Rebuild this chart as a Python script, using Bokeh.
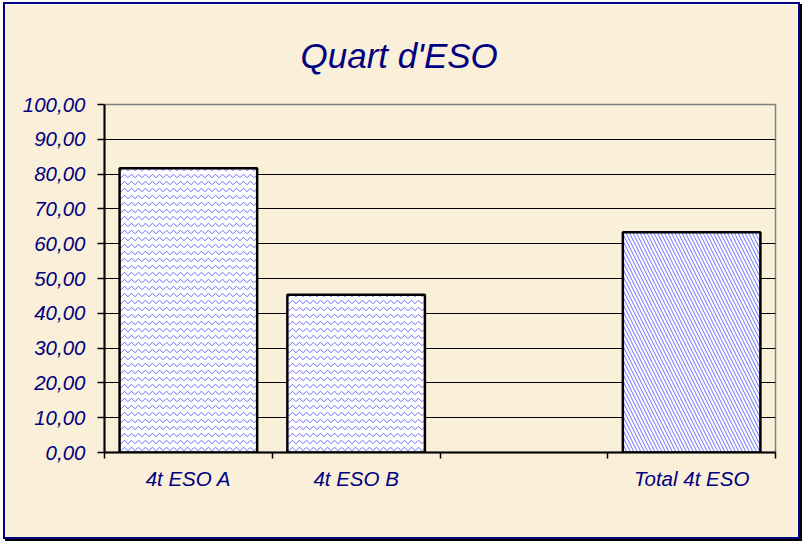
from bokeh.plotting import figure
from bokeh.models import Range1d, LinearAxis, FixedTicker, ColumnDataSource
from bokeh.embed import file_html
from bokeh.resources import INLINE

# ---- data ----
categories = ["4t ESO A", "4t ESO B", "", "Total 4t ESO"]
values = [81.7, 45.3, None, 63.3]
y_ticks = [0, 10, 20, 30, 40, 50, 60, 70, 80, 90, 100]
y_tick_labels = ["0,00", "10,00", "20,00", "30,00", "40,00", "50,00",
                 "60,00", "70,00", "80,00", "90,00", "100,00"]
title_text = "Quart d'ESO"

# ---- style ----
bar_hatch = ["v", "v", "v", "\\"]
NAVY = "#000080"
BG = "#FAF0DA"
FONT = "Liberation Sans"

n = len(categories)
centers = [i + 0.5 for i in range(n)]
bounds = list(range(n + 1))

W, H = 797, 537
OX, OY = 5, 4   # content origin (margin + border)
p = figure(width=W, height=H, output_backend="svg", toolbar_location=None,
           x_range=Range1d(0, n), y_range=Range1d(0, 100),
           x_axis_location=None, y_axis_location=None,
           min_border_left=104 - OX, min_border_top=104 - OY,
           min_border_right=W - (775 - OX), min_border_bottom=H - (452 - OY))
p.styles = {"border": "2px solid #000080", "box-shadow": "2px 2px 0 #000000",
            "margin": "2px 0 0 3px"}
p.background_fill_color = BG
p.border_fill_color = BG
p.outline_line_color = "#808080"
p.outline_line_width = 1.5

p.title.text = title_text
p.title.align = "left"
p.title.offset = 196
p.title.vertical_align = "top"
p.title.standoff = 56
p.title.text_font = FONT
p.title.text_font_style = "italic"
p.title.text_font_size = "35px"
p.title.text_color = NAVY

# y axis
yax = LinearAxis(ticker=FixedTicker(ticks=y_ticks),
                 major_label_overrides={t: l for t, l in zip(y_ticks, y_tick_labels)})
yax.axis_line_color = "black"
yax.axis_line_width = 2
yax.major_tick_in = 0
yax.major_tick_out = 7
yax.major_tick_line_width = 1.5
yax.minor_tick_line_color = None
yax.major_label_standoff = 12
yax.major_label_text_font = FONT
yax.major_label_text_font_style = "italic"
yax.major_label_text_font_size = "20.5px"
yax.major_label_text_color = NAVY
p.add_layout(yax, "left")

# x axis: labels at category centres, tick marks at category boundaries
xax = LinearAxis(ticker=FixedTicker(ticks=centers, minor_ticks=bounds),
                 major_label_overrides={c: lab for c, lab in zip(centers, categories)})
xax.axis_line_color = "black"
xax.axis_line_width = 2
xax.major_tick_line_color = None
xax.major_tick_in = 0
xax.major_tick_out = 6
xax.minor_tick_in = 0
xax.minor_tick_out = 6
xax.minor_tick_line_color = "black"
xax.minor_tick_line_width = 1.5
xax.major_label_standoff = 8
xax.major_label_text_font = FONT
xax.major_label_text_font_style = "italic"
xax.major_label_text_font_size = "20.5px"
xax.major_label_text_color = NAVY
p.add_layout(xax, "below")

# grid
p.xgrid.visible = False
p.ygrid.ticker = FixedTicker(ticks=y_ticks[1:-1])
p.ygrid.grid_line_color = "black"
p.ygrid.grid_line_width = 1

idx = [i for i, v in enumerate(values) if v is not None]
src = ColumnDataSource(dict(x=[centers[i] for i in idx],
                            top=[values[i] for i in idx],
                            hatch=[bar_hatch[i] for i in idx]))
p.vbar(x="x", top="top", bottom=0, width=0.82, source=src,
       fill_color="white", line_color="black", line_width=2.5,
       hatch_pattern="hatch", hatch_color="#6a6aff", hatch_scale=7,
       hatch_weight=1)

open("out.html", "w").write(file_html(p, INLINE))
